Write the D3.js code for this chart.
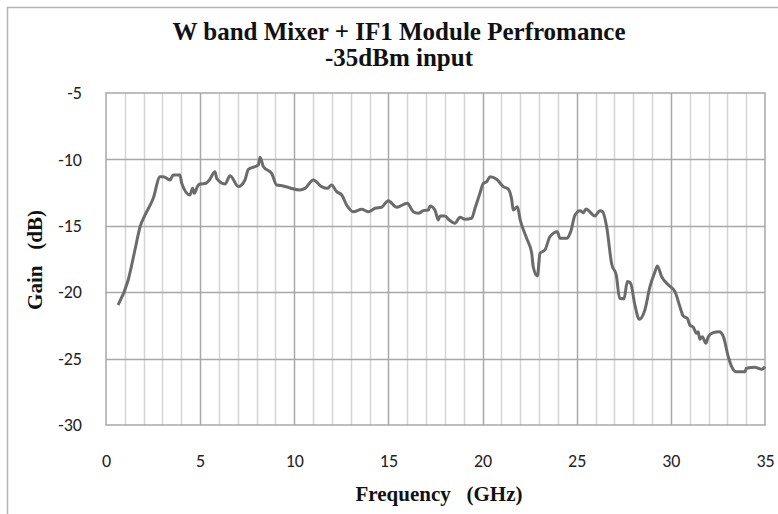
<!DOCTYPE html>
<html><head><meta charset="utf-8">
<script src="https://cdn.jsdelivr.net/npm/d3@7"></script>
<style>body{margin:0;background:#fff}svg{display:block}</style>
</head><body>
<svg id="c" width="778" height="514"></svg>
<script>
const titleLines = ["W band Mixer + IF1 Module Perfromance", "-35dBm input"];
const xLabel = "Frequency   (GHz)";
const yLabel = "Gain   (dB)";
const xTicks = [0,5,10,15,20,25,30,35];
const yTicks = [-5,-10,-15,-20,-25,-30];
const freq = [0.64,1.18,1.54,1.81,2.07,2.51,2.87,3.04,3.40,3.57,3.93,4.02,4.46,4.60,4.69,4.87,4.99,5.31,5.49,5.79,5.88,6.32,6.59,7.03,7.38,7.56,8.09,8.18,8.36,8.80,9.06,9.42,9.77,10.30,10.57,11.01,11.45,11.75,11.98,12.25,12.52,12.78,13.13,13.58,13.93,14.29,14.64,14.99,15.44,16.00,16.32,16.59,16.85,17.12,17.21,17.47,17.65,17.74,18.00,18.23,18.53,18.80,19.07,19.42,19.60,19.86,20.04,20.22,20.39,20.75,21.10,21.37,21.55,21.63,21.85,22.00,22.34,22.61,22.69,22.91,23.05,23.31,23.58,23.97,24.11,24.47,24.68,24.91,25.17,25.35,25.49,25.97,26.23,26.38,26.59,26.86,27.10,27.28,27.51,27.69,27.86,28.09,28.32,28.62,28.89,29.16,29.28,29.51,29.87,30.22,30.48,30.66,30.87,31.01,31.19,31.37,31.45,31.54,31.67,31.86,31.99,32.25,32.57,32.79,33.05,33.23,33.46,33.93,34.02,34.47,34.64,34.82,35.00];
const gain = [-20.96,-19.08,-16.8,-15.07,-14.2,-12.93,-11.3,-11.3,-11.55,-11.17,-11.17,-11.8,-12.68,-12.18,-12.55,-12.0,-11.85,-11.8,-11.55,-10.93,-11.43,-11.85,-11.23,-12.05,-11.55,-10.75,-10.42,-9.84,-10.55,-11.05,-11.93,-12.0,-12.15,-12.3,-12.18,-11.55,-12.05,-12.18,-11.93,-12.43,-12.68,-13.43,-13.94,-13.76,-13.94,-13.68,-13.6,-13.11,-13.6,-13.3,-13.94,-14.06,-13.86,-13.81,-13.51,-13.81,-14.56,-14.26,-14.26,-14.56,-14.81,-14.36,-14.51,-14.43,-13.68,-12.55,-11.8,-11.68,-11.3,-11.5,-12.05,-12.25,-13.06,-13.81,-13.56,-14.56,-15.94,-17.07,-18.08,-18.78,-17.07,-16.82,-15.82,-15.44,-15.94,-15.94,-15.44,-14.19,-13.86,-14.01,-13.73,-14.26,-13.86,-13.94,-15.07,-17.9,-18.7,-20.46,-20.5,-19.2,-19.33,-20.96,-22.04,-21.34,-19.58,-18.45,-18.02,-18.83,-19.46,-19.96,-21.09,-21.8,-21.97,-22.47,-22.64,-23.1,-22.97,-23.55,-23.35,-23.85,-23.35,-23.05,-22.97,-23.35,-24.86,-25.61,-25.99,-25.99,-25.73,-25.66,-25.73,-25.81,-25.61];

const svg = d3.select("#c");
const L = 106, R = 765, T = 93, B = 425;
const x = d3.scaleLinear().domain([0,35]).range([L,R]);
const y = d3.scaleLinear().domain([-30,-5]).range([B,T]);

// outer frame
svg.append("rect").attr("x",7.5).attr("y",7.5).attr("width",800).attr("height",600)
  .attr("fill","#fff").attr("stroke","#b4b4b4").attr("stroke-width",1.5);

// minor vertical grid
const g = svg.append("g");
g.selectAll("line.minor").data(d3.range(1,35).filter(v=>v%5!==0)).join("line")
  .attr("x1",d=>Math.round(x(d))+0.5).attr("x2",d=>Math.round(x(d))+0.5)
  .attr("y1",T).attr("y2",B).attr("stroke","#d4d4d4").attr("stroke-width",1.5);
g.selectAll("line.majx").data(xTicks.slice(1,-1)).join("line")
  .attr("x1",d=>Math.round(x(d))+0.5).attr("x2",d=>Math.round(x(d))+0.5)
  .attr("y1",T).attr("y2",B).attr("stroke","#a8a8a8").attr("stroke-width",1.5);
svg.append("g").selectAll("line").data(yTicks.slice(1,-1)).join("line")
  .attr("x1",L).attr("x2",R).attr("y1",d=>Math.round(y(d))+0.5).attr("y2",d=>Math.round(y(d))+0.5)
  .attr("stroke","#a8a8a8").attr("stroke-width",1.5);
svg.append("rect").attr("x",L).attr("y",T).attr("width",R-L).attr("height",B-T)
  .attr("fill","none").attr("stroke","#a8a8a8").attr("stroke-width",1.5);

// axes labels
const tickFont = "Carlito, 'Liberation Sans', Arial, sans-serif";
const xa = d3.axisBottom(x).tickValues(xTicks).tickSize(0).tickPadding(29).tickFormat(d=>String(d));
const xg = svg.append("g").attr("transform",`translate(0,${B})`).call(xa);
xg.select(".domain").remove();
xg.selectAll("text").attr("font-family",tickFont).attr("font-size",18).attr("fill","#222");
const ya = d3.axisLeft(y).tickValues(yTicks).tickSize(0).tickPadding(24).tickFormat(d=>String(d));
const yg = svg.append("g").attr("transform",`translate(${L},0)`).call(ya);
yg.select(".domain").remove();
yg.selectAll("text").attr("font-family",tickFont).attr("font-size",18).attr("fill","#222");

// line
svg.append("path").datum(freq.map((f,i)=>[f,gain[i]]))
  .attr("d", d3.line().x(d=>x(d[0])).y(d=>y(d[1])).curve(d3.curveMonotoneX))
  .attr("fill","none").attr("stroke","#6b6b6b").attr("stroke-width",3).attr("stroke-linejoin","round");

// titles
const serif = "'Liberation Serif', 'Times New Roman', serif";
svg.append("text").attr("x",399).attr("y",40).attr("text-anchor","middle")
  .attr("font-family",serif).attr("font-weight","bold").attr("font-size",25).attr("fill","#111")
  .text(titleLines[0]);
svg.append("text").attr("x",399).attr("y",66).attr("text-anchor","middle")
  .attr("font-family",serif).attr("font-weight","bold").attr("font-size",25).attr("fill","#111")
  .text(titleLines[1]);
svg.append("text").attr("x",439).attr("y",501).attr("text-anchor","middle")
  .attr("font-family",serif).attr("font-weight","bold").attr("font-size",21).attr("fill","#111")
  .style("white-space","pre").text(xLabel);
svg.append("text").attr("transform","translate(42,260) rotate(-90)").attr("text-anchor","middle")
  .attr("font-family",serif).attr("font-weight","bold").attr("font-size",21).attr("fill","#111")
  .style("white-space","pre").text(yLabel);
</script>
</body></html>
